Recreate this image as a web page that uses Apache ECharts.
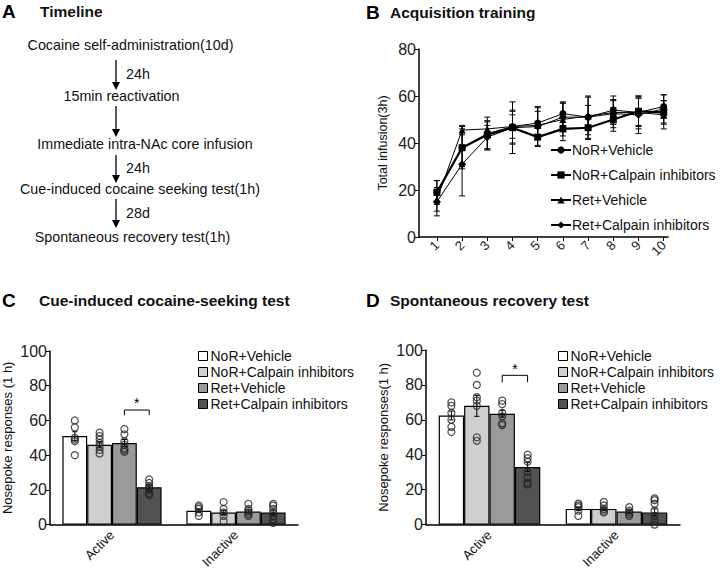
<!DOCTYPE html>
<html><head><meta charset="utf-8">
<script src="https://cdn.jsdelivr.net/npm/echarts@6/dist/echarts.min.js"></script>
<style>html,body{margin:0;padding:0;background:#fff}#c{width:720px;height:571px}</style>
</head><body><div id="c"></div>
<script>
// ---------- DATA ----------
const groupNames = ['NoR+Vehicle', 'NoR+Calpain inhibitors', 'Ret+Vehicle', 'Ret+Calpain inhibitors'];
const days = [1, 2, 3, 4, 5, 6, 7, 8, 9, 10];
const yTicksB = [0, 20, 40, 60, 80];
const acqNoRVeh = [19, 38, 44, 47, 48.5, 52.5, 51, 54, 53, 55.5];
const acqNoRCal = [19, 38, 43.5, 46.5, 42.5, 46, 46.5, 50, 53.5, 53];
const acqRetVeh = [16, 45.5, 46, 47, 47.5, 50, 51.5, 53, 53, 52];
const acqRetCal = [15, 31, 42.5, 46.5, 47, 51, 51, 52.5, 52, 54.5];
const acqNoRVehSem = [5, 8, 7, 7, 7, 5, 9, 6, 6, 5];
const acqNoRCalSem = [5, 9, 6, 7, 4, 5, 5, 5, 6, 5];
const acqRetVehSem = [5, 2, 3, 5, 6, 7, 8, 5, 7, 6];
const acqRetCalSem = [6, 13.5, 5, 11, 8, 6, 5, 6, 8, 6];

const testCategories = ['Active', 'Inactive'];
// Cue-induced test (C)
const cueMeans = [[51, 8], [46, 7], [47, 7.5], [21.5, 7]];
const cueSem = [[2.5, 1], [1.8, 1.2], [2, 1], [1.5, 1.3]];
const cueDots = [
  [[60, 56, 50, 49, 48, 40], [11, 10, 9, 7, 5]],
  [[53, 51, 49, 47, 45, 43, 41], [13, 9, 7, 5, 2]],
  [[55, 52, 48, 46, 44, 43, 42], [12, 9, 8, 7, 6, 5]],
  [[26, 24, 22, 21, 20, 18, 17], [12, 11, 9, 7, 5, 3, 1]]
];
const cueBracket = [[0.1, 0.3, 66, 63, 70]];
// Spontaneous recovery (D)
const srMeans = [[62.5, 9], [68, 9], [63.5, 7.5], [33, 7]];
const srSem = [[2.5, 1], [6, 1], [2, 1], [2.5, 2]];
const srDots = [
  [[70, 68, 64, 60, 56, 53], [12, 11, 10, 8, 5]],
  [[87, 80, 73, 71, 68, 50, 48], [13, 11, 9, 8, 7]],
  [[71, 69, 64, 62, 58, 57], [10, 8, 7, 6, 5]],
  [[40, 38, 36, 30, 27, 24, 23], [15, 14, 12, 8, 5, 2, 0]]
];
const srBracket = [[0.1, 0.3, 85.5, 81.5, 89]];

const timelineSteps = ['Cocaine self-administration(10d)', '15min reactivation', 'Immediate intra-NAc core infusion', 'Cue-induced cocaine seeking test(1h)', 'Spontaneous recovery test(1h)'];
const timelineGaps = ['24h', '', '24h', '28d'];

// ---------- STYLE ----------
const FONT = 'Liberation Sans, Arial, sans-serif';
const barColors = ['#ffffff', '#cfcfcf', '#9a9a9a', '#525252'];
const lineSymbols = ['circle', 'rect', 'triangle', 'diamond'];
const acqMeans = [acqNoRVeh, acqNoRCal, acqRetVeh, acqRetCal];
const acqSems = [acqNoRVehSem, acqNoRCalSem, acqRetVehSem, acqRetCalSem];

function errRender(cap) {
  return function (params, api) {
    const x = api.value(0), m = api.value(1), e = api.value(2);
    const t = api.coord([x, m + e]);
    const b = api.coord([x, m - e]);
    const st = { stroke: '#000', lineWidth: 1 };
    return { type: 'group', children: [
      { type: 'line', shape: { x1: t[0], y1: t[1], x2: b[0], y2: b[1] }, style: st },
      { type: 'line', shape: { x1: t[0] - cap, y1: t[1], x2: t[0] + cap, y2: t[1] }, style: st },
      { type: 'line', shape: { x1: b[0] - cap, y1: b[1], x2: b[0] + cap, y2: b[1] }, style: st }
    ]};
  };
}
function bracketRender(params, api) {
  const x1 = api.value(0), x2 = api.value(1), yt = api.value(2), yl = api.value(3), ys = api.value(4);
  const a = api.coord([x1, yl]), b = api.coord([x1, yt]), c = api.coord([x2, yt]), d = api.coord([x2, yl]);
  const s = api.coord([(x1 + x2) / 2, ys]);
  return { type: 'group', children: [
    { type: 'polyline', shape: { points: [a, b, c, d] }, style: { stroke: '#000', lineWidth: 1, fill: null } },
    { type: 'text', x: s[0], y: s[1], style: { text: '*', fontSize: 14, fontFamily: FONT, fill: '#000', align: 'center', verticalAlign: 'middle' } }
  ]};
}

const series = [];
// B lines
groupNames.forEach((n, i) => {
  series.push({
    name: n, type: 'line', xAxisIndex: 0, yAxisIndex: 0,
    data: days.map((d, k) => [d, acqMeans[i][k]]),
    symbol: lineSymbols[i], symbolSize: i === 3 ? 8 : 7,
    lineStyle: { color: '#000', width: i === 1 ? 2.2 : 1 },
    itemStyle: { color: '#000' }, z: 3
  });
});
groupNames.forEach((n, i) => {
  series.push({
    type: 'custom', xAxisIndex: 0, yAxisIndex: 0, renderItem: errRender(3),
    data: days.map((d, k) => [d, acqMeans[i][k], acqSems[i][k]]), z: 2
  });
});
// C & D bars
function addTest(catX, valX, yIdx, means, sems, dots, bracket) {
  groupNames.forEach((n, i) => {
    series.push({
      name: n, type: 'bar', xAxisIndex: catX, yAxisIndex: yIdx, data: means[i],
      barGap: '0%', barCategoryGap: '20%',
      itemStyle: { color: barColors[i], borderColor: '#000', borderWidth: 1.2 }, z: 2
    });
  });
  groupNames.forEach((n, i) => {
    const off = (i - 1.5) * 0.2;
    series.push({
      type: 'custom', xAxisIndex: valX, yAxisIndex: yIdx, renderItem: errRender(2.5),
      data: means[i].map((m, g) => [g + off, m, sems[i][g]]), z: 3
    });
    const pts = [];
    dots[i].forEach((arr, g) => arr.forEach(v => pts.push([g + off, v])));
    series.push({
      type: 'scatter', xAxisIndex: valX, yAxisIndex: yIdx, data: pts, symbol: 'circle', symbolSize: 7,
      itemStyle: { color: 'rgba(255,255,255,0)', borderColor: '#222', borderWidth: 1.2 }, z: 4, silent: true
    });
  });
  series.push({ type: 'custom', xAxisIndex: valX, yAxisIndex: yIdx, renderItem: bracketRender, data: bracket, z: 5 });
}
addTest(1, 2, 1, cueMeans, cueSem, cueDots, cueBracket);
addTest(3, 4, 2, srMeans, srSem, srDots, srBracket);

const axisLine = { onZero: false, lineStyle: { color: '#000', width: 1.5 } };
const yLabel = { fontSize: 16, color: '#222', fontFamily: FONT, margin: 3 };
function catAxis(gi) {
  return { type: 'category', gridIndex: gi, data: testCategories, axisLine: axisLine,
    axisTick: { alignWithLabel: true, length: 6, lineStyle: { color: '#000' } },
    axisLabel: { rotate: 45, fontSize: 13, color: '#111', fontFamily: FONT, margin: 8 } };
}
function hidX(gi) { return { type: 'value', gridIndex: gi, min: -0.5, max: 1.5, show: false }; }
function testY(gi, name) {
  return { type: 'value', gridIndex: gi, min: 0, max: 100, interval: 20, name: name, nameLocation: 'middle', nameGap: 36,
    nameTextStyle: { fontSize: 13, color: '#111', fontFamily: FONT },
    axisLine: Object.assign({ show: true }, axisLine), axisTick: { show: true, length: 4, lineStyle: { color: '#000' } },
    splitLine: { show: false }, axisLabel: yLabel };
}
function testLegend(left, top) {
  return { orient: 'vertical', left: left, top: top, itemWidth: 9, itemHeight: 9, itemGap: 2,
    textStyle: { fontSize: 14, color: '#111', fontFamily: FONT, padding: [0, 0, 0, -2] },
    data: groupNames.map((n, i) => ({ name: n, icon: 'rect', itemStyle: { color: barColors[i], borderColor: '#000', borderWidth: 1 } })) };
}

// Timeline graphic (panel A)
const tlCenter = [130.5, 121.5, 145, 140, 132.5];
const tlY = [45, 96, 144, 189, 237];
const arrows = [[60, 90], [106, 137], [155, 183], [199, 228]];
const graphic = [];
timelineSteps.forEach((t, i) => graphic.push({ type: 'text', x: tlCenter[i], y: tlY[i],
  style: { text: t, fontSize: 14.3, fontFamily: FONT, fill: '#111', align: 'center', verticalAlign: 'middle' } }));
arrows.forEach((a, i) => {
  graphic.push({ type: 'line', shape: { x1: 116, y1: a[0], x2: 116, y2: a[1] - 6 }, style: { stroke: '#000', lineWidth: 1.3 } });
  graphic.push({ type: 'polygon', shape: { points: [[112, a[1] - 8], [120, a[1] - 8], [116, a[1]]] }, style: { fill: '#000' } });
  if (timelineGaps[i]) graphic.push({ type: 'text', x: 126, y: (a[0] + a[1]) / 2 - 1,
    style: { text: timelineGaps[i], fontSize: 14.3, fontFamily: FONT, fill: '#111', verticalAlign: 'middle' } });
});
const titles = [['A', 'Timeline', 2, 40, 11], ['B', 'Acquisition training', 366, 390, 12], ['C', 'Cue-induced cocaine-seeking test', 2, 39, 300], ['D', 'Spontaneous recovery test', 366, 390, 300]];
titles.forEach(t => {
  graphic.push({ type: 'text', x: t[2], y: t[4], style: { text: t[0], fontSize: 19, fontWeight: 'bold', fontFamily: FONT, fill: '#000', verticalAlign: 'middle' } });
  graphic.push({ type: 'text', x: t[3], y: t[4], style: { text: t[1], fontSize: 15.5, fontWeight: 'bold', fontFamily: FONT, fill: '#111', verticalAlign: 'middle' } });
});

const option = {
  backgroundColor: '#fff',
  animation: false,
  textStyle: { fontFamily: FONT },
  graphic: graphic,
  grid: [
    { left: 419, top: 49, width: 249, height: 188 },
    { left: 48, top: 351, width: 250, height: 178 },
    { left: 426, top: 350, width: 254, height: 179 }
  ],
  xAxis: [
    { type: 'value', gridIndex: 0, min: 0.29, max: 10.17, splitLine: { show: false }, axisLine: axisLine,
      axisTick: { customValues: days, length: 4, lineStyle: { color: '#000' } },
      axisLabel: { customValues: days, rotate: 45, fontSize: 13, color: '#222', fontFamily: FONT, margin: 6 } },
    catAxis(1), hidX(1), catAxis(2), hidX(2)
  ],
  yAxis: [
    { type: 'value', gridIndex: 0, min: 0, max: 80, interval: 20, name: 'Total infusion(3h)', nameLocation: 'middle', nameGap: 30,
      nameTextStyle: { fontSize: 12.5, color: '#111', fontFamily: FONT },
      axisLine: Object.assign({ show: true }, axisLine), axisTick: { show: true, length: 4, lineStyle: { color: '#000' } },
      splitLine: { show: false }, axisLabel: yLabel },
    testY(1, 'Nosepoke responses (1 h)'),
    testY(2, 'Nosepoke responses(1 h)')
  ],
  legend: [
    { orient: 'vertical', left: 545, top: 138, itemWidth: 20, itemHeight: 9, itemGap: 11,
      textStyle: { fontSize: 14, color: '#111', fontFamily: FONT, padding: [0, 0, 0, -4] }, data: groupNames },
    testLegend(193, 344),
    testLegend(553, 344)
  ],
  series: series
};
const chart = echarts.init(document.getElementById('c'), null, { renderer: 'svg', width: 720, height: 571 });
chart.setOption(option);
</script></body></html>
